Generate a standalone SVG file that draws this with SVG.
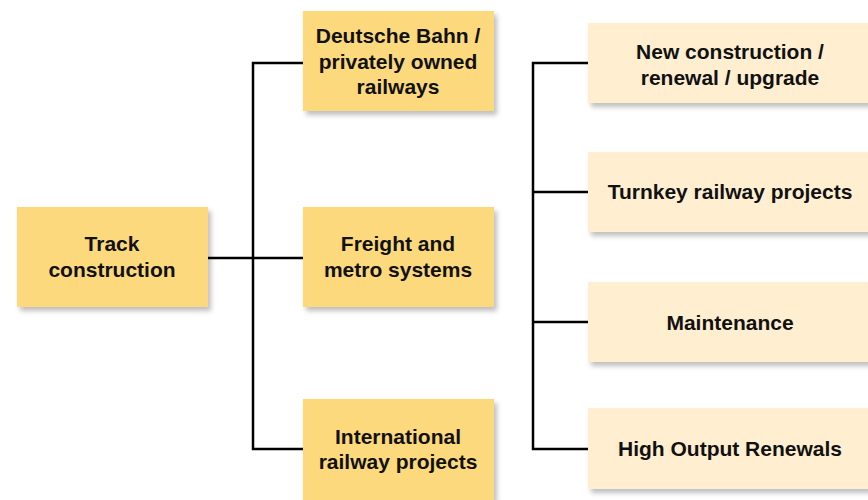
<svg xmlns="http://www.w3.org/2000/svg" width="868" height="500" viewBox="0 0 868 500">
<defs>
<filter id="sh" x="-10%" y="-10%" width="125%" height="130%">
<feDropShadow dx="3" dy="4" stdDeviation="2.5" flood-color="#000" flood-opacity="0.25"/>
</filter>
<style>
.n1{fill:#FDD97D;filter:url(#sh)}
.n2{fill:#FFEFD0;filter:url(#sh)}
.t{font-family:"Liberation Sans",Arial,sans-serif;font-weight:bold;font-size:21px;fill:#111;text-anchor:middle}
.c{fill:none;stroke:#000;stroke-width:2.5}
</style>
</defs>
<rect width="868" height="500" fill="#fff"/>
<g id="connectors">
<path class="c" d="M208,258 H303"/>
<path class="c" d="M303,63 H253 V449 H303"/>
<path class="c" d="M588,63 H533 V449 H588"/>
<path class="c" d="M533,192 H588"/>
<path class="c" d="M533,322 H588"/>
</g>
<g id="track">
<rect class="n1" x="17" y="207" width="191" height="100"/>
<text class="t" x="112" y="251">Track</text>
<text class="t" x="112" y="277">construction</text>
</g>
<g id="db">
<rect class="n1" x="303" y="11" width="191" height="100"/>
<text class="t" x="398" y="43">Deutsche Bahn /</text>
<text class="t" x="398" y="68.5">privately owned</text>
<text class="t" x="398" y="94">railways</text>
</g>
<g id="freight">
<rect class="n1" x="303" y="207" width="191" height="100"/>
<text class="t" x="398" y="251">Freight and</text>
<text class="t" x="398" y="277">metro systems</text>
</g>
<g id="intl">
<rect class="n1" x="303" y="399" width="191" height="101"/>
<text class="t" x="398" y="444">International</text>
<text class="t" x="398" y="469">railway projects</text>
</g>
<g id="newcon">
<rect class="n2" x="588" y="23" width="284" height="80"/>
<text class="t" x="730" y="59">New construction /</text>
<text class="t" x="730" y="85">renewal / upgrade</text>
</g>
<g id="turnkey">
<rect class="n2" x="588" y="152" width="284" height="80"/>
<text class="t" x="730" y="199">Turnkey railway projects</text>
</g>
<g id="maint">
<rect class="n2" x="588" y="282" width="284" height="80"/>
<text class="t" x="730" y="330">Maintenance</text>
</g>
<g id="hor">
<rect class="n2" x="588" y="408" width="284" height="81"/>
<text class="t" x="730" y="456">High Output Renewals</text>
</g>
</svg>
